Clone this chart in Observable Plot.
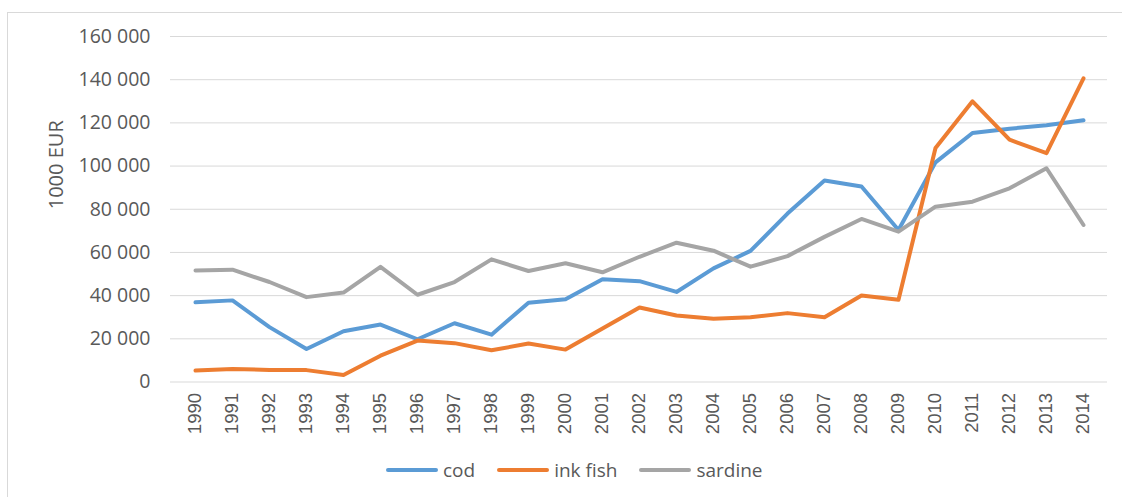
<!DOCTYPE html>
<html>
<head>
<meta charset="utf-8">
<script src="https://cdn.jsdelivr.net/npm/d3@7"></script>
<script src="https://cdn.jsdelivr.net/npm/@observablehq/plot@0.6"></script>
<style>
  html, body { margin: 0; padding: 0; background: #fff; }
  #wrap { position: relative; width: 1122px; height: 497px; overflow: hidden; background: #fff; }
  #border { position: absolute; left: 7px; top: 12px; width: 1140px; height: 520px; border: 1.5px solid #d9d9d9; box-sizing: border-box; }
  #chart { position: absolute; left: 0; top: 0; }
  #legend { position: absolute; left: 386px; top: 457px; display: flex; align-items: center; font-family: "Open Sans", sans-serif; font-size: 19px; color: #595959; }
  .item { display: flex; align-items: center; margin-right: 22px; }
  .item svg { margin-right: 5px; }
</style>
</head>
<body>
<div id="wrap">
  <div id="border"></div>
  <div id="chart"></div>
  <div id="legend"></div>
</div>
<script>
const years = ["1990","1991","1992","1993","1994","1995","1996","1997","1998","1999","2000","2001","2002","2003","2004","2005","2006","2007","2008","2009","2010","2011","2012","2013","2014"];
const cod      = [36900, 37800, 25400, 15300, 23500, 26600, 19800, 27200, 21900, 36700, 38300, 47600, 46700, 41700, 52600, 60700, 78000, 93300, 90500, 70400, 101700, 115300, 117300, 118900, 121200];
const inkFish  = [5300, 6000, 5600, 5500, 3200, 12200, 19200, 18000, 14700, 17800, 15000, 24800, 34500, 30800, 29300, 30000, 31900, 30000, 40100, 38100, 108400, 130000, 112200, 106000, 140600];
const sardine  = [51600, 52000, 46300, 39300, 41400, 53300, 40400, 46300, 56800, 51400, 55000, 50800, 58000, 64500, 60800, 53400, 58300, 67200, 75500, 69600, 81200, 83500, 89700, 99000, 72700];
const seriesNames = ["cod", "ink fish", "sardine"];
const seriesColors = ["#5B9BD5", "#ED7D31", "#A5A5A5"];
const yTicks = [0, 20000, 40000, 60000, 80000, 100000, 120000, 140000, 160000];
const yLabel = "1000 EUR";

const seriesValues = [cod, inkFish, sardine];
const data = [];
seriesNames.forEach((name, i) => {
  years.forEach((yr, j) => data.push({series: name, year: yr, value: seriesValues[i][j]}));
});

const fmt = d => d3.format(",")(d).replace(/,/g, " ");

const chart = Plot.plot({
  width: 1122,
  height: 450,
  marginLeft: 170,
  marginRight: 15,
  marginTop: 36,
  marginBottom: 68.5,
  style: { fontFamily: "'Open Sans', sans-serif", color: "#595959", background: "transparent", overflow: "visible" },
  x: { type: "point", domain: years, padding: 0.5 },
  y: { domain: [0, 160000], ticks: yTicks },
  color: { domain: seriesNames, range: seriesColors },
  marks: [
    Plot.ruleY(yTicks, { stroke: "#d9d9d9", strokeWidth: 1 }),
    Plot.axisY({ ticks: yTicks, tickFormat: fmt, tickSize: 0, tickPadding: 20, label: null, fontSize: 19.5, fill: "#595959" }),
    Plot.axisX({ tickSize: 0, tickPadding: 11, tickRotate: -90, label: null, fontSize: 18.5, fill: "#595959", fontFamily: "'Liberation Sans', Arial, sans-serif" }),
    Plot.line(data, { x: "year", y: "value", z: "series", stroke: "series", strokeWidth: 4, strokeLinejoin: "round", strokeLinecap: "round" }),
    Plot.text([yLabel], { text: d => d, frameAnchor: "left", dx: -114, rotate: -90, fontSize: 20, fill: "#595959" })
  ]
});
document.getElementById("chart").appendChild(chart);

const legend = document.getElementById("legend");
seriesNames.forEach((name, i) => {
  const item = document.createElement("div");
  item.className = "item";
  item.innerHTML = `<svg width="52" height="10"><line x1="2" y1="5" x2="50" y2="5" stroke="${seriesColors[i]}" stroke-width="4" stroke-linecap="round"/></svg><span>${name}</span>`;
  legend.appendChild(item);
});
</script>
</body>
</html>
